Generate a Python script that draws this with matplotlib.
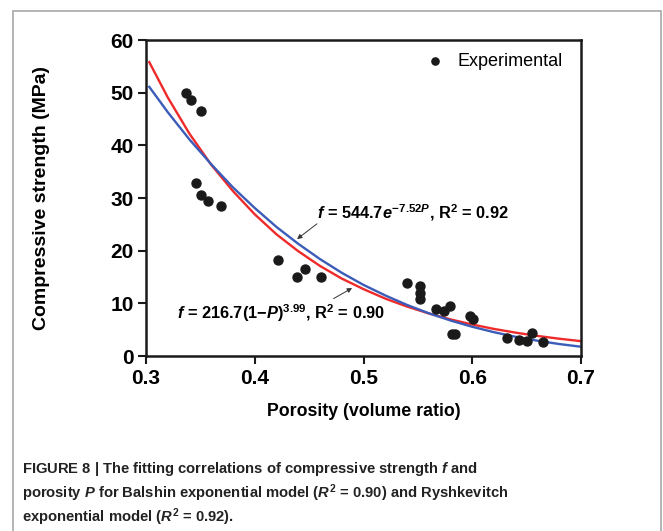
import matplotlib
matplotlib.use('Agg')
import matplotlib.pyplot as plt
from matplotlib.patches import Rectangle

plt.rcParams['font.family'] = ['Liberation Sans', 'DejaVu Sans']
plt.rcParams['mathtext.fontset'] = 'custom'
plt.rcParams['mathtext.rm'] = 'Liberation Sans:bold'
plt.rcParams['mathtext.bf'] = 'Liberation Sans:bold'
plt.rcParams['mathtext.it'] = 'Liberation Sans:italic:bold'

# experimental points (porosity, compressive strength in MPa)
porosity = [0.337, 0.341, 0.351, 0.346, 0.3505, 0.357, 0.369, 0.421, 0.439, 0.446,
            0.461, 0.540, 0.552, 0.552, 0.552, 0.567, 0.574, 0.5795, 0.581, 0.584,
            0.598, 0.601, 0.632, 0.643, 0.650, 0.655, 0.665]
strength = [49.9, 48.6, 46.5, 32.9, 30.6, 29.5, 28.5, 18.2, 15.0, 16.5,
            15.0, 13.9, 13.2, 11.9, 10.9, 8.9, 8.6, 9.5, 4.2, 4.2,
            7.6, 7.0, 3.4, 3.0, 2.9, 4.4, 2.7]

# fitted curves
p_fit = [0.303, 0.32, 0.34, 0.36, 0.38, 0.40, 0.42, 0.44, 0.46, 0.48, 0.50,
         0.52, 0.54, 0.56, 0.58, 0.60, 0.62, 0.64, 0.66, 0.68, 0.70]
red_fit = [55.8, 49.1, 42.2, 36.3, 31.3, 26.9, 23.1, 19.9, 17.1, 14.7, 12.7,
           10.9, 9.39, 8.08, 6.95, 5.98, 5.14, 4.43, 3.81, 3.28, 2.82]
blue_fit = [51.1, 46.3, 41.1, 36.4, 32.0, 28.1, 24.5, 21.3, 18.4, 15.8, 13.5,
            11.5, 9.70, 8.12, 6.74, 5.55, 4.52, 3.64, 2.90, 2.27, 1.76]

x_ticks = [0.3, 0.4, 0.5, 0.6, 0.7]
y_ticks = [0, 10, 20, 30, 40, 50, 60]

fig = plt.figure(figsize=(6.63, 5.31), dpi=100)
W, H = 663, 531

# grey frame round the figure
fig.patches.append(Rectangle((13 / W, -0.1), (661 - 13) / W, 1.1 - 11 / H,
                             transform=fig.transFigure, fill=False,
                             edgecolor='#a8a8a8', linewidth=1.2))

ax = fig.add_axes([146 / W, 1 - 356 / H, (581 - 146) / W, (356 - 40) / H])

ax.plot(p_fit, red_fit, color='#ee2a2a', linewidth=1.7, zorder=2)
ax.plot(p_fit, blue_fit, color='#3b5cb8', linewidth=1.7, zorder=2)
ax.scatter(porosity, strength, s=42, color='#1a1a1a', zorder=3,
           label='Experimental')

ax.set_xlim(0.3, 0.7)
ax.set_ylim(0, 60)
ax.set_xticks(x_ticks)
ax.set_yticks(y_ticks)
ax.set_xticklabels([f'{v:.1f}' for v in x_ticks], fontweight='bold', fontsize=15)
ax.set_yticklabels([str(v) for v in y_ticks], fontweight='bold', fontsize=15)
ax.tick_params(direction='out', length=6, width=1.5, color='#1a1a1a', pad=3)
for s in ax.spines.values():
    s.set_linewidth(1.8)
    s.set_color('#1a1a1a')

ax.set_xlabel('Porosity (volume ratio)', fontweight='bold', fontsize=12.8)
ax.xaxis.set_label_coords(0.5, -0.15)
ax.set_ylabel('Compressive strength (MPa)', fontweight='bold', fontsize=14)
ax.yaxis.set_label_coords(-0.22, 0.5)

ax.legend(loc='upper right', bbox_to_anchor=(0.9875, 1.0), frameon=False,
          fontsize=13, handletextpad=0.25, markerscale=0.8, borderaxespad=0.3)

# annotations with arrows
arrow = dict(arrowstyle='-|>', color='#333333', lw=0.7, mutation_scale=7,
             shrinkA=0, shrinkB=0)
ax.annotate('', xy=(0.4389, 22.2), xytext=(0.4572, 25.1), arrowprops=arrow)
ax.text(0.4572, 26.2, r'$f$ = 544.7$e^{\mathit{-7.52P}}$, R$^2$ = 0.92',
        fontsize=11.8, fontweight='bold', ha='left', va='baseline')
ax.annotate('', xy=(0.4895, 12.9), xytext=(0.4725, 10.9), arrowprops=arrow)
ax.text(0.3285, 7.0, r'$f$ = 216.7$\mathit{(1{-}P)}^{\mathit{3.99}}$, R$^2$ = 0.90',
        fontsize=11.8, fontweight='bold', ha='left', va='baseline')

# caption
fig.text(22 / W, 1 - 473 / H,
         r'FIGURE 8 | The fitting correlations of compressive strength $f$ and',
         fontweight='bold', fontsize=10.6, color='#222222')
fig.text(22 / W, 1 - 498 / H,
         r'porosity $P$ for Balshin exponential model ($R^2$ = 0.90) and Ryshkevitch',
         fontweight='bold', fontsize=10.6, color='#222222')
fig.text(22 / W, 1 - 522 / H,
         r'exponential model ($R^2$ = 0.92).',
         fontweight='bold', fontsize=10.6, color='#222222')

fig.savefig('out.png', dpi=100)
